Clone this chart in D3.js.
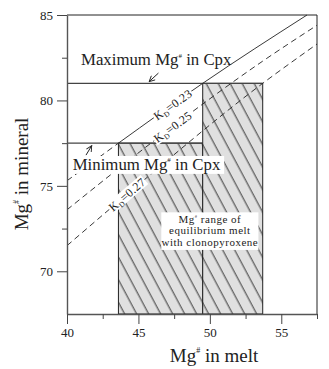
<!DOCTYPE html>
<html lang="en">
<head>
<meta charset="UTF-8">
<title>Mg# cpx - melt</title>
<style>
  body { margin: 0; background: #fff; }
  svg text { font-family: "Liberation Serif", "Times New Roman", serif; fill: #222; }
</style>
</head>
<body>
<svg width="329" height="369" id="svg"></svg>
<script src="https://d3js.org/d3.v7.min.js"></script>
<script>
// x ticks (Mg# in melt) and y ticks (Mg# in mineral)
const xTicks = [40, 45, 50, 55]
const xMinor = [42.5, 47.5, 52.5, 57.5]
const yTicks = [70, 75, 80, 85]
const yMinor = [72.5, 77.5, 82.5]

// Kd lines, points [melt, mineral]
const kdNames = ["0.23", "0.25", "0.27"]
const kd023 = [[40, 75.3], [43.6, 77.5], [49.5, 81], [56.8, 85]]
const kd025 = [[40, 73.6], [46.5, 77.9], [53.7, 82.3], [57.5, 84.4]]
const kd027 = [[40, 71.5], [44.2, 74.5], [53.7, 81], [57.5, 83.3]]
const kdLabelAt = [47.4, 47.4, 44.2]   // melt value where the label sits

// limits of cpx Mg# and melt ranges
const cpxMax = 81
const cpxMin = 77.5
const meltLow = [43.6, 49.5]    // melt range for min cpx
const meltHigh = [49.5, 53.7]   // melt range for max cpx

const svg = d3.select("svg#svg")
const x = d3.scaleLinear().domain([40, 57.5]).range([67, 317])
const y = d3.scaleLinear().domain([67.5, 85]).range([314, 15])

const defs = svg.append("defs")
const pat = defs.append("pattern").attr("id", "hatch")
    .attr("patternUnits", "userSpaceOnUse")
    .attr("width", 10.6).attr("height", 20)
    .attr("patternTransform", "rotate(-28)")
pat.append("rect").attr("width", 10.6).attr("height", 20).attr("fill", "#e0e0e0")
pat.append("line").attr("x1", 5).attr("x2", 5).attr("y1", 0).attr("y2", 20)
    .attr("stroke", "#222").attr("stroke-width", 0.9)

defs.append("marker").attr("id", "arr")
    .attr("viewBox", "0 0 10 10").attr("refX", 9).attr("refY", 5)
    .attr("markerWidth", 7).attr("markerHeight", 7).attr("orient", "auto")
    .append("path").attr("d", "M1,1 L9,5 L1,9").attr("fill", "none")
    .attr("stroke", "#222").attr("stroke-width", 1.3)

// hatched melt ranges
const ranges = [
    { x0: meltLow[0], x1: meltLow[1], top: cpxMin },
    { x0: meltHigh[0], x1: meltHigh[1], top: cpxMax }
]
svg.append("g").selectAll("rect").data(ranges).join("rect")
    .attr("x", d => x(d.x0)).attr("y", d => y(d.top))
    .attr("width", d => x(d.x1) - x(d.x0))
    .attr("height", d => y(67.5) - y(d.top))
    .attr("fill", "url(#hatch)")
    .attr("stroke", "#222").attr("stroke-width", 1)

// max / min cpx lines
svg.append("line").attr("x1", x(40)).attr("x2", x(meltHigh[1]))
    .attr("y1", y(cpxMax)).attr("y2", y(cpxMax))
    .attr("stroke", "#444").attr("stroke-width", 1.2)
svg.append("line").attr("x1", x(40)).attr("x2", x(meltLow[1]))
    .attr("y1", y(cpxMin)).attr("y2", y(cpxMin))
    .attr("stroke", "#444").attr("stroke-width", 1.2)

// Kd lines
const line = d3.line().x(d => x(d[0])).y(d => y(d[1])).curve(d3.curveMonotoneX)
const lg = svg.append("g").attr("fill", "none").attr("stroke", "#222").attr("stroke-width", 0.9)
lg.append("path").attr("d", line(kd023.slice(0, 2))).attr("stroke-dasharray", "6,4")
lg.append("path").attr("d", line(kd023.slice(1)))
lg.append("path").attr("d", line(kd025)).attr("stroke-dasharray", "6,4")
lg.append("path").attr("d", line(kd027)).attr("stroke-dasharray", "6,4")

// Kd labels along lines
const interp = (pts, v) => {
    for (let i = 0; i < pts.length - 1; i++) {
        if (v >= pts[i][0] && v <= pts[i + 1][0]) {
            const t = (v - pts[i][0]) / (pts[i + 1][0] - pts[i][0])
            return { v: pts[i][1] + t * (pts[i + 1][1] - pts[i][1]), a: pts[i], b: pts[i + 1] }
        }
    }
}
;[kd023, kd025, kd027].forEach((pts, i) => {
    const r = interp(pts, kdLabelAt[i])
    const ang = Math.atan2(y(r.b[1]) - y(r.a[1]), x(r.b[0]) - x(r.a[0])) * 180 / Math.PI
    const g = svg.append("g").attr("transform", `translate(${x(kdLabelAt[i])},${y(r.v)}) rotate(${ang})`)
    g.append("rect").attr("x", -23).attr("y", -6).attr("width", 46).attr("height", 12).attr("fill", "#fff")
    const t = g.append("text").attr("text-anchor", "middle").attr("dy", "0.35em").attr("font-size", 12)
        .attr("letter-spacing", 0.3)
    t.append("tspan").text("K")
    t.append("tspan").attr("font-size", 7.5).attr("dy", 2.5).text("D")
    t.append("tspan").attr("dy", -2.5).text("=" + kdNames[i])
})

// frame
svg.append("path")
    .attr("d", `M${x(40)},${y(85)} H${x(57.5)} V${y(67.5)}`)
    .attr("fill", "none").attr("stroke", "#222").attr("stroke-width", 1)

// axes
const ax = svg.append("g").attr("transform", `translate(0,${y(67.5)})`)
    .call(d3.axisBottom(x).tickValues(xTicks).tickSize(10).tickSizeOuter(0))
const axm = svg.append("g").attr("transform", `translate(0,${y(67.5)})`)
    .call(d3.axisBottom(x).tickValues(xMinor).tickSize(5).tickFormat(""))
const ay = svg.append("g").attr("transform", `translate(${x(40)},0)`)
    .call(d3.axisLeft(y).tickValues(yTicks).tickSize(10).tickSizeOuter(0))
const aym = svg.append("g").attr("transform", `translate(${x(40)},0)`)
    .call(d3.axisLeft(y).tickValues(yMinor).tickSize(5).tickFormat(""))
;[ax, axm, ay, aym].forEach(a => {
    a.select(".domain").attr("stroke", "#555").attr("stroke-width", 1.4)
    a.selectAll(".tick line").attr("stroke", "#444")
    a.selectAll("text").attr("font-family", "Liberation Serif").attr("font-size", 13).attr("fill", "#333")
})
axm.select(".domain").remove()
aym.select(".domain").remove()
ax.selectAll("text").attr("y", 14)
ay.selectAll("text").attr("x", -14)

// helper for Mg# text
function mg(sel, size, rest) {
    sel.append("tspan").text("Mg")
    sel.append("tspan").attr("font-size", size * 0.42).attr("dy", -size * 0.45).text("#")
    sel.append("tspan").attr("dy", size * 0.45).text(rest)
}

// annotations
const tMax = svg.append("text").attr("x", x(40.98)).attr("y", y(82.07)).attr("font-size", 16.8)
tMax.append("tspan").text("Maximum ")
mg(tMax, 16.8, " in Cpx")
svg.append("line").attr("x1", x(46.4)).attr("y1", y(81.6)).attr("x2", x(45.75)).attr("y2", y(81.1))
    .attr("stroke", "#222").attr("stroke-width", 1).attr("marker-end", "url(#arr)")

svg.append("rect").attr("x", x(40.3)).attr("y", y(76.75)).attr("width", x(51.0) - x(40.3))
    .attr("height", y(75.7) - y(76.75)).attr("fill", "#fff")
const tMin = svg.append("text").attr("x", x(40.4)).attr("y", y(75.93)).attr("font-size", 16.8)
tMin.append("tspan").text("Minimum ")
mg(tMin, 16.8, " in Cpx")
svg.append("line").attr("x1", x(41.33)).attr("y1", y(76.8)).attr("x2", x(41.73)).attr("y2", y(77.35))
    .attr("stroke", "#222").attr("stroke-width", 1).attr("marker-end", "url(#arr)")

// range box
svg.append("rect").attr("x", x(46.6)).attr("y", y(73.45)).attr("width", x(53.4) - x(46.6))
    .attr("height", y(71.25) - y(73.45)).attr("fill", "#fff")
const rb = svg.append("text").attr("text-anchor", "middle").attr("font-size", 11)
    .attr("letter-spacing", 0.5)
const l1 = rb.append("tspan").attr("x", x(50)).attr("y", y(72.83))
mg(l1, 11, " range of")
rb.append("tspan").attr("x", x(50)).attr("y", y(72.16)).text("equilibrium melt")
rb.append("tspan").attr("x", x(50)).attr("y", y(71.48)).text("with clonopyroxene")

// axis titles
const xt = svg.append("text").attr("x", 214).attr("y", 362).attr("text-anchor", "middle").attr("font-size", 19)
mg(xt, 19, " in melt")
const yt = svg.append("text").attr("transform", "translate(28,174) rotate(-90)")
    .attr("text-anchor", "middle").attr("font-size", 19)
mg(yt, 19, " in mineral")
</script>
</body>
</html>
